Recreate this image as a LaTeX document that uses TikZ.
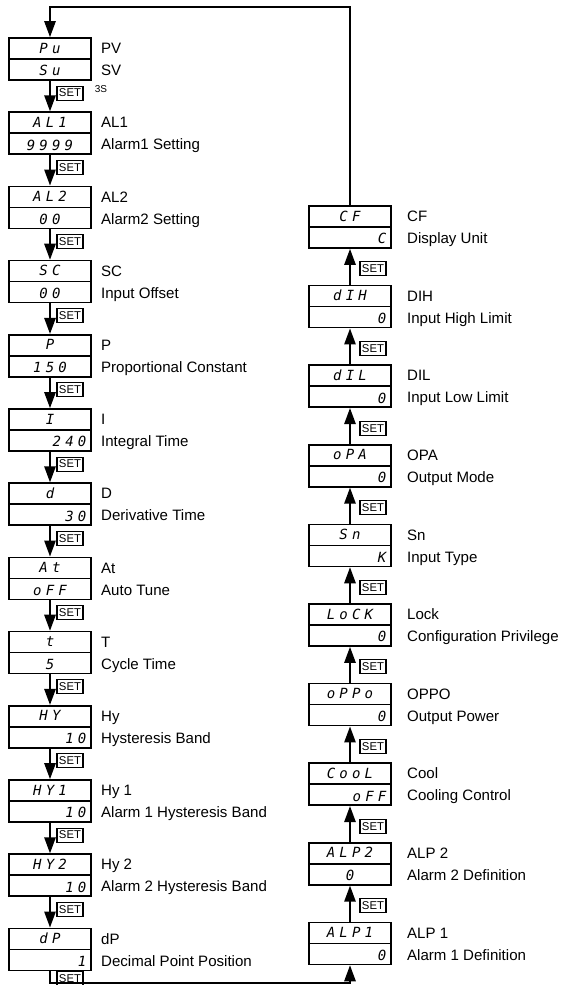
\documentclass[tikz,border=0pt]{standalone}
\usepackage{fontspec}
\setmainfont{Liberation Sans}
\newfontfamily\segfont[LetterSpace=30]{DejaVu Sans Mono}
\usepackage{tikz}
\usetikzlibrary{arrows.meta, positioning, calc}

\tikzset{
  disp/.style={draw, line width=1.3pt, minimum width=61.5pt, minimum height=31.5pt, inner sep=0pt},
  seg/.style={font=\segfont\itshape\fontsize{10.5}{12}\selectfont, inner sep=0pt},
  lbl/.style={font=\fontsize{11.3}{13}\selectfont, anchor=base west, inner sep=0pt},
  setkey/.style={draw, line width=0.8pt, font=\fontsize{8.5}{9}\selectfont, minimum width=19.5pt, minimum height=10.5pt, inner sep=0pt},
  flow/.style={line width=1.3pt, -{Triangle[length=12pt, width=8.5pt]}},
  rowc/.style={anchor=base},
  rowr/.style={anchor=base east, xshift=27.5pt}
}

\begin{document}
\begin{tikzpicture}[x=0.75pt, y=-0.75pt]
  \useasboundingbox (0,0) rectangle (566,985);
  % Left column, stepping down
  \foreach \nm/\ta/\tb/\al/\la/\lb [count=\k from 0] in {
    pv/Pu/Su/rowc/PV/SV,
    alone/AL1/9999/rowc/AL1/Alarm1 Setting,
    altwo/AL2/00/rowc/AL2/Alarm2 Setting,
    sc/SC/00/rowc/SC/Input Offset,
    pc/P/150/rowc/P/Proportional Constant,
    it/I/240/rowr/I/Integral Time,
    dt/d/30/rowr/D/Derivative Time,
    atune/At/oFF/rowc/At/Auto Tune,
    ct/t/5/rowc/T/Cycle Time,
    hy/HY/10/rowr/Hy/Hysteresis Band,
    hyone/HY1/10/rowr/Hy 1/Alarm 1 Hysteresis Band,
    hytwo/HY2/10/rowr/Hy 2/Alarm 2 Hysteresis Band,
    dp/dP/1/rowr/dP/Decimal Point Position}
  {
    \node[disp] (\nm) at (50, {59+74.2*\k}) {};
    \draw[line width=1.3pt] (\nm.west) -- (\nm.east);
    \node[seg, anchor=base] (\nm-up) at ($(\nm.north)+(0,16)$) {\ta};
    \node[seg, \al] (\nm-dn) at ($(\nm.south)+(0,-5)$) {\tb};
    \node[lbl] (\nm-la) at ($(\nm.north east)+(9,16.5)$) {\la};
    \node[lbl] (\nm-lb) at ($(\nm.north east)+(9,38.5)$) {\lb};
    \ifnum\k>0
      \draw[flow] (\lastbox.south) -- (\nm.north);
      \node[setkey] (setl\k) at ($(\lastbox.south)!0.4!(\nm.north)+(20,0)$) {SET};
    \fi
    \xdef\lastbox{\nm}
  }
  \node[font=\fontsize{7.5}{8}\selectfont, anchor=north west, inner sep=0pt] (hold) at ($(setl1.north east)+(11,0)$) {3S};
  \node[setkey] (setlast) at ($(dp.south)+(20,7)$) {SET};

  % Right column, stepping up
  \foreach \nm/\ta/\tb/\al/\la/\lb [count=\j from 0] in {
    cf/CF/C/rowr/CF/Display Unit,
    dih/dIH/0/rowr/DIH/Input High Limit,
    dil/dIL/0/rowr/DIL/Input Low Limit,
    opa/oPA/0/rowr/OPA/Output Mode,
    sn/Sn/K/rowr/Sn/Input Type,
    lock/LoCK/0/rowr/Lock/Configuration Privilege,
    oppo/oPPo/0/rowr/OPPO/Output Power,
    cool/CooL/oFF/rowr/Cool/Cooling Control,
    alptwo/ALP2/0/rowc/ALP 2/Alarm 2 Definition,
    alpone/ALP1/0/rowr/ALP 1/Alarm 1 Definition}
  {
    \node[disp] (\nm) at (350, {227+79.6*\j}) {};
    \draw[line width=1.3pt] (\nm.west) -- (\nm.east);
    \node[seg, anchor=base] (\nm-up) at ($(\nm.north)+(0,16)$) {\ta};
    \node[seg, \al] (\nm-dn) at ($(\nm.south)+(0,-5)$) {\tb};
    \node[lbl] (\nm-la) at ($(\nm.north east)+(15,16.5)$) {\la};
    \node[lbl] (\nm-lb) at ($(\nm.north east)+(15,38.5)$) {\lb};
    \ifnum\j>0
      \draw[flow] (\nm.north) -- (\lastbox.south);
      \node[setkey] (setr\j) at ($(\lastbox.south)!0.56!(\nm.north)+(23,0)$) {SET};
    \fi
    \xdef\lastbox{\nm}
  }

  % Return lines
  \coordinate (topline) at (0,7);
  \coordinate (botline) at (0,983);
  \draw[flow] (cf.north) -- (cf.north |- topline) -| (pv.north);
  \draw[flow] (dp.south) -- (dp.south |- botline) -| (alpone.south);
\end{tikzpicture}
\end{document}
